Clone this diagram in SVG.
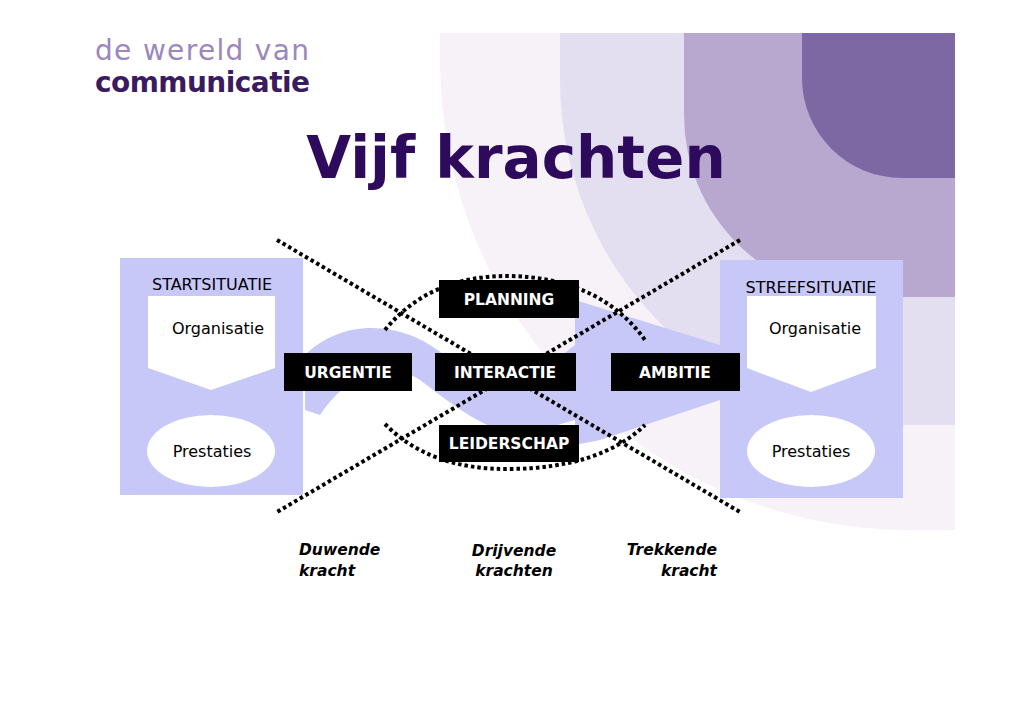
<svg xmlns="http://www.w3.org/2000/svg" width="1030" height="728" viewBox="0 0 1030 728">
<style>
.bx{fill:#000}
.bt{fill:#fff;font-family:"DejaVu Sans",sans-serif;font-weight:bold;font-size:15.5px;text-anchor:middle}
.nt{fill:#000;font-family:"DejaVu Sans",sans-serif;font-size:16px;text-anchor:middle}
.lb{fill:#000;font-family:"DejaVu Sans",sans-serif;font-size:15.5px;font-style:italic;font-weight:bold}
.dot{fill:none;stroke:#000;stroke-width:4;stroke-dasharray:3.5 3}
</style>
<rect width="1030" height="728" fill="#fff"/>
<path d="M440,33 V60 A470,470 0 0 0 910,530 H955 V33 Z" fill="#f6f2f8"/>
<path d="M560,33 V80 A345,345 0 0 0 905,425 H955 V33 Z" fill="#e4dff0"/>
<path d="M684,33 V115 A182,182 0 0 0 866,297 H955 V33 Z" fill="#b8a8cf"/>
<path d="M802,33 V78 A100,100 0 0 0 902,178 H955 V33 Z" fill="#7d68a4"/>
<text x="95" y="60" font-family="'DejaVu Sans',sans-serif" font-size="28" fill="#9b87bd" textLength="214">de wereld van</text>
<text x="95" y="92" font-family="'DejaVu Sans',sans-serif" font-size="28" font-weight="bold" fill="#3a1a60" textLength="215">communicatie</text>
<text x="516" y="178" font-family="'DejaVu Sans',sans-serif" font-size="58" font-weight="bold" fill="#2e0a5c" text-anchor="middle">Vijf krachten</text>
<path d="M305,410 L305,355 C330,330 370,320 410,335 C450,350 480,395 520,385 C545,378 560,355 575,345 L575,300 L720,345 L720,400 L600,440 L575,445 L575,420 C545,428 525,440 500,430 C470,420 440,395 420,380 C390,360 350,370 320,415 Z" fill="#c8c8f8"/>
<g id="start">
<rect x="120" y="258" width="183" height="237" fill="#c8c8f8"/>
<text x="212" y="290" class="nt">STARTSITUATIE</text>
<path d="M148,296 H275 V368 L211,390 L148,368 Z" fill="#fff"/>
<text x="218" y="334" class="nt">Organisatie</text>
<ellipse cx="211" cy="451" rx="64" ry="36" fill="#fff"/>
<text x="212" y="457" class="nt">Prestaties</text>
</g>
<g id="streef">
<rect x="720" y="260" width="183" height="238" fill="#c8c8f8"/>
<text x="811" y="293" class="nt">STREEFSITUATIE</text>
<path d="M747,296 H876 V368 L811,392 L747,368 Z" fill="#fff"/>
<text x="815" y="334" class="nt">Organisatie</text>
<ellipse cx="811" cy="451" rx="64" ry="36" fill="#fff"/>
<text x="811" y="457" class="nt">Prestaties</text>
</g>
<g id="connectors">
<line x1="277" y1="240" x2="740" y2="512" class="dot"/>
<line x1="740" y1="240" x2="277" y2="512" class="dot"/>
<path d="M385,330 Q430,275 510,276 Q600,278 645,340" class="dot"/>
<path d="M385,424 Q430,470 510,469 Q600,468 645,425" class="dot"/>
</g>
<g id="planning"><rect x="439" y="280" width="140" height="38" class="bx"/><text x="509" y="305" class="bt">PLANNING</text></g>
<g id="urgentie"><rect x="284" y="353" width="128" height="38" class="bx"/><text x="348" y="378" class="bt">URGENTIE</text></g>
<g id="interactie"><rect x="435" y="353" width="141" height="38" class="bx"/><text x="505" y="378" class="bt">INTERACTIE</text></g>
<g id="ambitie"><rect x="611" y="353" width="129" height="38" class="bx"/><text x="675" y="378" class="bt">AMBITIE</text></g>
<g id="leiderschap"><rect x="439" y="425" width="140" height="37" class="bx"/><text x="509" y="449" class="bt">LEIDERSCHAP</text></g>
<text x="299" y="555" class="lb">Duwende</text>
<text x="299" y="576" class="lb">kracht</text>
<text x="514" y="556" class="lb" text-anchor="middle">Drijvende</text>
<text x="514" y="576" class="lb" text-anchor="middle">krachten</text>
<text x="717" y="555" class="lb" text-anchor="end">Trekkende</text>
<text x="717" y="576" class="lb" text-anchor="end">kracht</text>
</svg>
